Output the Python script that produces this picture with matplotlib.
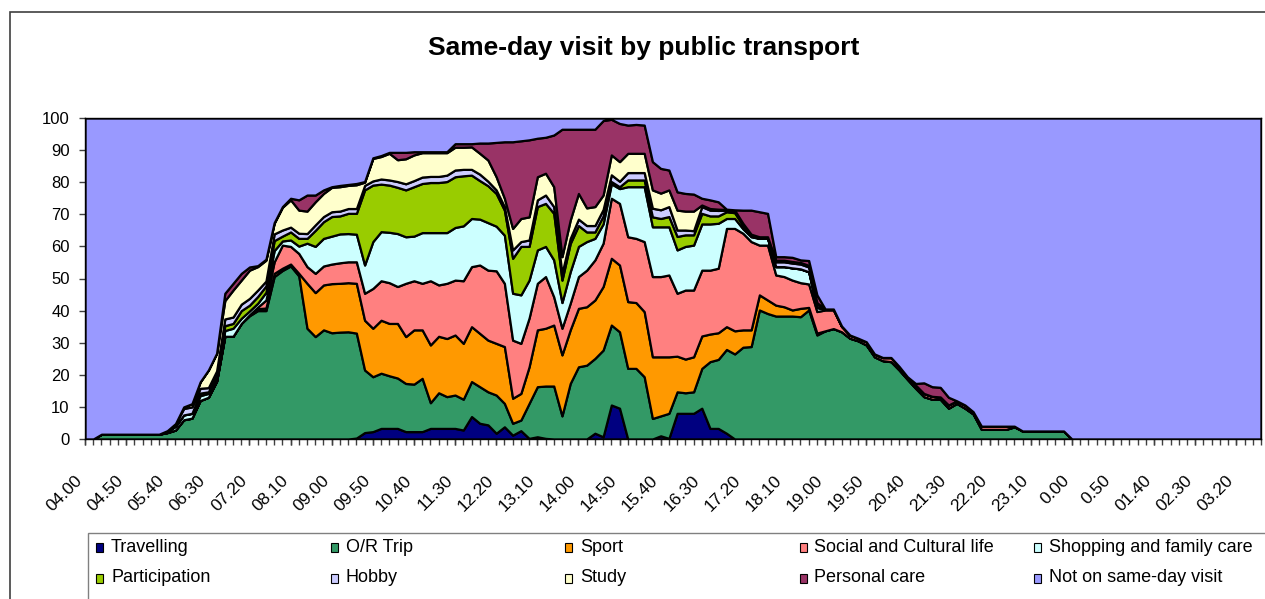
import matplotlib
matplotlib.use('Agg')
import numpy as np
import matplotlib.pyplot as plt
from matplotlib.patches import Rectangle
from matplotlib.transforms import ScaledTranslation

plt.rcParams['font.family'] = ['Liberation Sans', 'DejaVu Sans']

# Tick labels (every 5th slot of 10 minutes, 04.00 -> 03.50):
tick_labels = ['04.00', '04.50', '05.40', '06.30', '07.20', '08.10', '09.00', '09.50',
               '10.40', '11.30', '12.20', '13.10', '14.00', '14.50', '15.40', '16.30',
               '17.20', '18.10', '19.00', '19.50', '20.40', '21.30', '22.20', '23.10',
               '0.00', '0.50', '01.40', '02.30', '03.20']
label_step = 5

# Shares (%) per 10-minute slot:
travelling = [0, 0, 0, 0, 0, 0, 0, 0, 0, 0, 0, 0, 0, 0, 0, 0, 0, 0, 0, 0,
              0, 0, 0, 0, 0, 0, 0, 0, 0, 0, 0, 0, 0, 0.3, 2.0, 2.3, 3.3, 3.3, 3.3, 2.3,
              2.3, 2.3, 3.3, 3.3, 3.3, 3.3, 2.8, 7.0, 4.9, 4.4, 1.8, 3.8, 1.2, 2.6, 0.2, 0.7, 0.2, 0, 0, 0,
              0, 0, 1.8, 0.7, 10.6, 9.6, 0, 0, 0, 0, 1.0, 0.2, 8.0, 8.0, 8.0, 9.6, 3.3, 3.3, 1.8, 0,
              0, 0, 0, 0, 0, 0, 0, 0, 0, 0, 0, 0, 0, 0, 0, 0, 0, 0, 0, 0,
              0, 0, 0, 0, 0, 0, 0, 0, 0, 0, 0, 0, 0, 0, 0, 0, 0, 0, 0, 0,
              0, 0, 0, 0, 0, 0, 0, 0, 0, 0, 0, 0, 0, 0, 0, 0, 0, 0, 0, 0,
              0, 0, 0, 0]
or_trip = [0, 0, 1.5, 1.5, 1.5, 1.5, 1.5, 1.5, 1.5, 1.5, 2.0, 2.8, 6.0, 6.5, 12, 13, 18, 32, 32, 36,
           38.4, 40, 40, 50.6, 52.5, 53.9, 50.8, 34.5, 31.9, 34.0, 33.1, 33.3, 33.4, 32.7, 19.5, 17.1, 17.2, 16.4, 15.7, 15.0,
           14.8, 16.6, 8.0, 11.1, 9.9, 10.4, 9.6, 10.9, 11.4, 10.3, 11.9, 7.3, 3.7, 3.3, 10.9, 15.6, 16.3, 16.5, 7.2, 17.3,
           22.5, 23.0, 23.3, 27.0, 24.9, 23.8, 22.0, 22.0, 19.4, 6.4, 6.2, 7.8, 6.7, 6.4, 6.7, 12.4, 20.8, 21.5, 26.1, 26.5,
           28.6, 28.8, 40.2, 39.1, 38.3, 38.3, 38.3, 38.1, 40.2, 32.4, 33.7, 34.4, 33.4, 31.4, 30.6, 29.3, 25.6, 24.4, 24.1, 21.5,
           18.6, 15.8, 13.2, 12.4, 12.4, 9.6, 11.1, 9.6, 7.8, 3.0, 3.0, 3.0, 3.0, 3.8, 2.5, 2.5, 2.5, 2.5, 2.5, 2.5,
           0, 0, 0, 0, 0, 0, 0, 0, 0, 0, 0, 0, 0, 0, 0, 0, 0, 0, 0, 0,
           0, 0, 0, 0]
sport = [0, 0, 0, 0, 0, 0, 0, 0, 0, 0, 0, 0, 0, 0, 0, 0, 0, 0, 0, 0,
         0.3, 0.6, 0.8, 1.0, 0.7, 0.6, 0.8, 14.0, 13.7, 14.0, 15.3, 15.2, 15.3, 15.5, 15.5, 15.1, 16.5, 16.3, 17.0, 14.6,
         16.9, 15.1, 18.0, 17.6, 18.1, 18.7, 17.4, 17.1, 16.6, 16.1, 16.1, 17.7, 7.8, 8.3, 11.4, 17.7, 18.0, 19.0, 19.0, 16.7,
         18.2, 18.2, 18.2, 19.8, 20.8, 20.8, 20.8, 20.5, 20.3, 19.2, 18.4, 17.6, 11.1, 10.5, 10.9, 10.1, 8.6, 8.3, 7.1, 7.2,
         5.4, 5.2, 4.7, 4.2, 3.4, 2.9, 1.9, 2.6, 0.8, 0.6, 0, 0, 0, 0, 0, 0, 0, 0, 0, 0,
         0, 0, 0, 0, 0, 0, 0, 0, 0, 0, 0, 0, 0, 0, 0, 0, 0, 0, 0, 0,
         0, 0, 0, 0, 0, 0, 0, 0, 0, 0, 0, 0, 0, 0, 0, 0, 0, 0, 0, 0,
         0, 0, 0, 0]
social = [0, 0, 0, 0, 0, 0, 0, 0, 0, 0, 0, 0, 0, 0, 0, 0, 0, 0, 0, 0,
          0, 0.5, 2.5, 3.6, 7.2, 5.5, 6.2, 5.2, 6.0, 5.9, 6.1, 6.4, 6.5, 6.7, 8.4, 12.4, 12.3, 12.7, 11.5, 16.6,
          15.3, 14.5, 20.0, 16.0, 17.2, 17.1, 19.5, 18.7, 21.3, 21.8, 22.6, 19.7, 18.1, 15.6, 15.2, 14.5, 16.1, 8.8, 8.3, 8.3,
          9.9, 11.4, 12.5, 13.5, 18.7, 19.2, 20.2, 20.0, 21.8, 25.0, 25.0, 25.5, 19.6, 21.5, 20.8, 20.5, 19.9, 20.1, 30.6, 31.9,
          30.1, 27.5, 15.5, 17.1, 9.4, 9.4, 9.3, 8.0, 7.3, 6.7, 6.5, 5.8, 1.6, 1.0, 0.8, 1.0, 0.9, 1.0, 1.3, 1.1,
          0.8, 1.0, 1.0, 0.9, 0.7, 1.0, 0.8, 1.0, 0.7, 1.0, 1.0, 1.0, 1.0, 0.2, 0, 0, 0, 0, 0, 0,
          0, 0, 0, 0, 0, 0, 0, 0, 0, 0, 0, 0, 0, 0, 0, 0, 0, 0, 0, 0,
          0, 0, 0, 0]
shopping = [0, 0, 0, 0, 0, 0, 0, 0, 0, 0, 0.3, 1.2, 1.5, 1.5, 1.5, 1.2, 1.5, 1.8, 2.5, 1.6,
            1.2, 1.2, 2.4, 3.5, 1.3, 2.0, 2.3, 7.3, 8.4, 8.6, 8.7, 9.0, 8.8, 8.6, 8.8, 14.6, 15.3, 15.7, 16.5, 14.5,
            13.9, 15.8, 15.0, 16.3, 15.8, 16.4, 17.1, 15.0, 14.3, 14.8, 13.9, 15.0, 14.6, 15.1, 11.8, 10.4, 9.4, 11.5, 8.0, 9.8,
            9.4, 8.9, 6.7, 6.0, 4.5, 4.6, 15.6, 16.1, 17.1, 15.5, 15.5, 15.0, 13.5, 13.6, 14.0, 14.4, 14.4, 14.0, 3.1, 3.1,
            1.4, 1.5, 2.1, 2.1, 2.6, 3.1, 3.8, 4.3, 3.8, 1.3, 0.3, 0.3, 0.2, 0, 0, 0, 0, 0, 0, 0,
            0, 0, 0, 0, 0, 0, 0, 0, 0, 0, 0, 0, 0, 0, 0, 0, 0, 0, 0, 0,
            0, 0, 0, 0, 0, 0, 0, 0, 0, 0, 0, 0, 0, 0, 0, 0, 0, 0, 0, 0,
            0, 0, 0, 0]
participation = [0, 0, 0, 0, 0, 0, 0, 0, 0, 0, 0, 0, 0, 0, 0.8, 0.5, 0.2, 1.5, 1.5, 2.4,
                 1.8, 2.1, 2.0, 3.1, 1.5, 2.5, 2.4, 1.5, 5.0, 5.2, 6.1, 5.6, 6.3, 6.5, 23.4, 17.6, 14.8, 14.7, 14.4, 14.6,
                 15.4, 15.3, 15.6, 15.6, 15.9, 15.8, 15.6, 13.5, 12.0, 11.5, 10.2, 7.8, 10.9, 15.1, 10.5, 13.5, 13.4, 14.5, 7.0, 8.8,
                 6.5, 3.0, 2.0, 2.5, 0.7, 0.6, 2.1, 2.1, 2.1, 3.1, 2.6, 3.2, 4.2, 3.6, 3.2, 3.3, 2.5, 2.3, 2.1, 1.8,
                 1.0, 0.3, 0, 0, 0, 0, 0, 0, 0, 0, 0, 0, 0, 0, 0, 0, 0, 0, 0, 0,
                 0, 0, 0, 0, 0, 0, 0, 0, 0, 0, 0, 0, 0, 0, 0, 0, 0, 0, 0, 0,
                 0, 0, 0, 0, 0, 0, 0, 0, 0, 0, 0, 0, 0, 0, 0, 0, 0, 0, 0, 0,
                 0, 0, 0, 0]
hobby = [0, 0, 0, 0, 0, 0, 0, 0, 0, 0, 0.3, 0.8, 2.0, 2.0, 1.5, 1.3, 1.5, 2.1, 2.0, 2.0,
         2.1, 2.0, 1.5, 2.1, 1.9, 1.5, 1.6, 1.5, 1.7, 1.6, 1.5, 1.5, 1.5, 1.5, 1.4, 1.3, 1.6, 1.6, 1.8, 1.9,
         1.9, 2.0, 1.9, 1.9, 2.0, 2.1, 2.0, 1.8, 2.0, 1.4, 1.1, 1.1, 2.6, 1.5, 2.0, 2.1, 2.6, 2.1, 2.1, 1.6,
         2.0, 2.0, 2.0, 2.0, 2.1, 1.7, 2.3, 2.3, 2.3, 2.7, 2.7, 3.1, 2.0, 1.5, 1.3, 2.1, 1.8, 1.7, 0.5, 0.7,
         0.5, 0.3, 0.3, 0.3, 1.5, 1.5, 1.5, 1.5, 1.5, 1.0, 0, 0, 0, 0, 0, 0, 0, 0, 0, 0,
         0, 0, 0, 0, 0, 0, 0, 0, 0, 0, 0, 0, 0, 0, 0, 0, 0, 0, 0, 0,
         0, 0, 0, 0, 0, 0, 0, 0, 0, 0, 0, 0, 0, 0, 0, 0, 0, 0, 0, 0,
         0, 0, 0, 0]
study = [0, 0, 0, 0, 0, 0, 0, 0, 0, 0, 0, 0, 0.5, 1.0, 2.0, 5.5, 5.5, 5.7, 8.4, 7.5,
         8.8, 7.3, 6.5, 3.3, 7.1, 8.5, 7.2, 7.0, 7.2, 7.2, 7.6, 7.6, 7.2, 7.4, 1.0, 7.0, 7.0, 8.3, 6.8, 7.8,
         8.0, 7.6, 7.4, 7.4, 7.0, 7.1, 6.9, 7.0, 6.5, 6.6, 4.1, 2.6, 6.7, 7.2, 7.2, 7.2, 6.8, 6.2, 5.2, 5.7,
         8.0, 5.5, 5.9, 4.5, 6.2, 6.1, 6.0, 6.0, 6.0, 5.7, 5.2, 5.2, 6.2, 5.9, 6.1, 0.5, 0.5, 0.4, 0.2, 0.1,
         0.2, 0.2, 0.2, 0.2, 0.5, 0.5, 0.5, 0.5, 0.5, 0.5, 0, 0, 0, 0, 0, 0, 0, 0, 0, 0,
         0, 0, 0, 0, 0, 0, 0, 0, 0, 0, 0, 0, 0, 0, 0, 0, 0, 0, 0, 0,
         0, 0, 0, 0, 0, 0, 0, 0, 0, 0, 0, 0, 0, 0, 0, 0, 0, 0, 0, 0,
         0, 0, 0, 0]
personal_care = [0, 0, 0, 0, 0, 0, 0, 0, 0, 0, 0, 0, 0, 0, 0, 0, 0, 2.3, 2.1, 2.1,
                 1.0, 0.3, 0.3, 0.2, 0.2, 0.5, 3.2, 5.0, 2.1, 1.1, 0.2, 0.4, 0.3, 0.4, 0.2, 0.2, 0.3, 0.3, 2.3, 2.0,
                 1.0, 0.3, 0.3, 0.3, 0.3, 1.1, 1.1, 1.0, 3.2, 5.3, 10.7, 17.6, 27.0, 24.2, 24.0, 12.0, 11.2, 16.1, 39.7, 28.3,
                 20.0, 24.5, 24.1, 23.2, 11.1, 11.9, 8.8, 9.0, 8.8, 8.8, 7.7, 6.2, 5.7, 5.5, 5.3, 2.1, 2.7, 2.3, 0.1, 0.1,
                 4.1, 7.5, 7.8, 7.3, 1.1, 1.1, 1.3, 0.8, 1.5, 2.4, 0, 0, 0, 0, 0, 0, 0, 0, 0, 0,
                 0, 0.5, 3.3, 3.0, 3.0, 2.4, 0, 0, 0, 0, 0, 0, 0, 0, 0, 0, 0, 0, 0, 0,
                 0, 0, 0, 0, 0, 0, 0, 0, 0, 0, 0, 0, 0, 0, 0, 0, 0, 0, 0, 0,
                 0, 0, 0, 0]
not_on_visit = [100, 100, 98.5, 98.5, 98.5, 98.5, 98.5, 98.5, 98.5, 98.5, 97.4, 95.2, 90.0, 89.0, 82.2, 78.5, 73.3, 54.6, 51.5, 48.4,
                46.4, 46.0, 44.0, 32.6, 27.6, 25.0, 25.5, 24.0, 24.0, 22.4, 21.4, 21.0, 20.7, 20.4, 19.8, 12.4, 11.7, 10.7, 10.7, 10.7,
                10.5, 10.5, 10.5, 10.5, 10.5, 8.0, 8.0, 8.0, 7.8, 7.8, 7.6, 7.4, 7.4, 7.1, 6.8, 6.3, 6.0, 5.3, 3.5, 3.5,
                3.5, 3.5, 3.5, 0.8, 0.4, 1.7, 2.2, 2.0, 2.2, 13.6, 15.7, 16.2, 23.0, 23.5, 23.7, 25.0, 25.5, 26.1, 28.4, 28.6,
                28.7, 28.7, 29.2, 29.7, 43.2, 43.2, 43.4, 44.2, 44.4, 55.1, 59.5, 59.5, 64.8, 67.6, 68.6, 69.7, 73.5, 74.6, 74.6, 77.4,
                80.6, 82.7, 82.5, 83.7, 83.9, 87.0, 88.1, 89.4, 91.5, 96.0, 96.0, 96.0, 96.0, 96.0, 97.5, 97.5, 97.5, 97.5, 97.5, 97.5,
                100, 100, 100, 100, 100, 100, 100, 100, 100, 100, 100, 100, 100, 100, 100, 100, 100, 100, 100, 100,
                100, 100, 100, 100]

series_names = ['Travelling', 'O/R Trip', 'Sport', 'Social and Cultural life', 'Shopping and family care',
                'Participation', 'Hobby', 'Study', 'Personal care', 'Not on same-day visit']
series = [travelling, or_trip, sport, social, shopping, participation, hobby, study, personal_care, not_on_visit]
colors = ['#000080', '#339966', '#FF9900', '#FF8080', '#CCFFFF',
          '#99CC00', '#CCCCFF', '#FFFFCC', '#993366', '#9999FF']

x = np.arange(len(travelling))

fig = plt.figure(figsize=(12.65, 5.99), dpi=100)
ax = fig.add_axes([85 / 1265, 1 - 439 / 599, (1261 - 85) / 1265, (439 - 118) / 599])

# Stacked areas with black outlines (Excel style):
ax.stackplot(x, *series, colors=colors, edgecolor='black', linewidth=1.6)

ax.set_xlim(0, len(x) - 1)
ax.set_ylim(0, 100)
ax.set_yticks(np.arange(0, 101, 10))
ax.set_xticks(x[::label_step])
ax.set_xticklabels(tick_labels, rotation=45, ha='right', va='center', rotation_mode='anchor')
ax.set_xticks(x, minor=True)
ax.xaxis.remove_overlapping_locs = False
ax.tick_params(axis='both', which='both', direction='out', length=4, width=1.0, color='#404040')
ax.tick_params(axis='y', labelsize=12, pad=7)
ax.tick_params(axis='x', which='major', labelsize=12.5, pad=24)
offset = ScaledTranslation(-5 / 100, 0, fig.dpi_scale_trans)
for lbl in ax.get_xticklabels():
    lbl.set_transform(lbl.get_transform() + offset)
for s in ax.spines.values():
    s.set_color('black')
    s.set_linewidth(1.0)

fig.text(644 / 1265, 1 - 48 / 599, 'Same-day visit by public transport', ha='center', va='center',
         fontsize=19, fontweight='bold')

# Chart frame and legend box:
fig.add_artist(Rectangle((10 / 1265, -0.1), 1.2, 1.1 - 12 / 599, transform=fig.transFigure,
                         fill=False, edgecolor='#404040', linewidth=1.2))
fig.add_artist(Rectangle((88 / 1265, -0.1), 1.2, 0.1 + (599 - 533) / 599, transform=fig.transFigure,
                         fill=False, edgecolor='#808080', linewidth=1.0))

col_x = [96, 330.5, 565, 799.5, 1034]
row_y = [547, 578]
for k, (name, c) in enumerate(zip(series_names, colors)):
    cx = col_x[k % 5]
    cy = row_y[k // 5]
    fig.add_artist(Rectangle((cx / 1265, 1 - (cy + 4.5) / 599), 7 / 1265, 9 / 599,
                             transform=fig.transFigure, facecolor=c, edgecolor='black', linewidth=0.8))
    fig.text((cx + 15) / 1265, 1 - cy / 599, name, ha='left', va='center', fontsize=13)

plt.savefig('out.png', dpi=100)
